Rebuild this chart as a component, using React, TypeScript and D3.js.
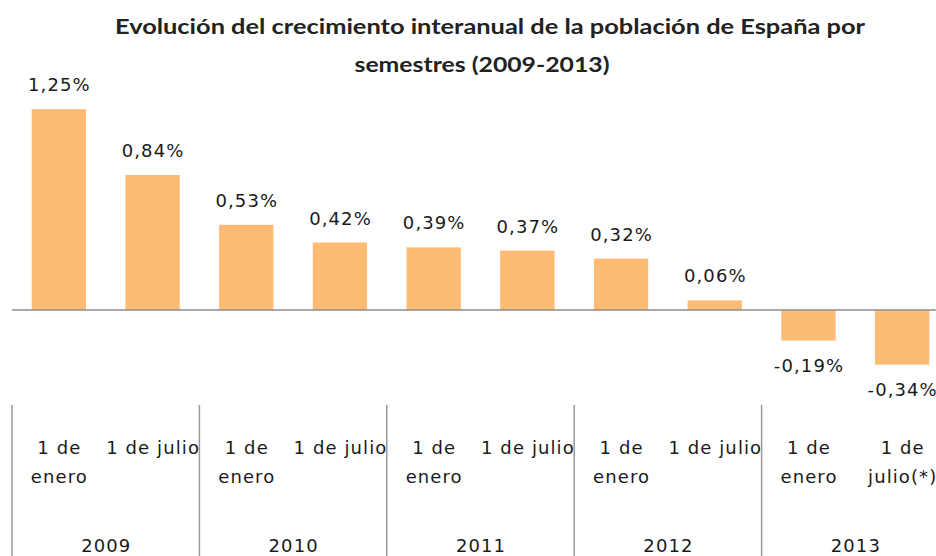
import React from "react";
import * as d3 from "d3";

const categories = ["1 de enero", "1 de julio", "1 de enero", "1 de julio", "1 de enero", "1 de julio", "1 de enero", "1 de julio", "1 de enero", "1 de julio(*)"];
const catLine1 = ["1 de", "1 de julio", "1 de", "1 de julio", "1 de", "1 de julio", "1 de", "1 de julio", "1 de", "1 de"];
const catLine2 = ["enero", "", "enero", "", "enero", "", "enero", "", "enero", "julio(*)"];
const years = ["2009", "2010", "2011", "2012", "2013"];
const values = [1.25, 0.84, 0.53, 0.42, 0.39, 0.37, 0.32, 0.06, -0.19, -0.34];
const valueLabels = ["1,25%", "0,84%", "0,53%", "0,42%", "0,39%", "0,37%", "0,32%", "0,06%", "-0,19%", "-0,34%"];

const W = 936;
const H = 556;
const labelFont = "'DejaVu Sans', Verdana, sans-serif";
const ls = 1.1;

export default function App() {
  const x = d3
    .scaleBand<number>()
    .domain(d3.range(categories.length))
    .range([12, 949])
    .paddingInner(0.42)
    .paddingOuter(0.21);
  const y = d3.scaleLinear().domain([-0.6, 1.4]).range([406.5, 85]);
  const step = x.step();
  const x0 = 12;

  return (
    <svg
      width={W}
      height={H}
      style={{ position: "absolute", left: 0, top: 0, background: "#fff" }}
    >
      <rect x={0} y={0} width={W} height={H} fill="#fff" />
      <text
        x={490}
        y={34}
        textAnchor="middle"
        fontFamily="Lato, 'Open Sans', sans-serif"
        fontWeight="bold"
        fontSize={21}
        fill="#222"
        textLength={750}
        lengthAdjust="spacingAndGlyphs"
      >
        Evolución del crecimiento interanual de la población de España por
      </text>
      <text
        x={482}
        y={72}
        textAnchor="middle"
        fontFamily="Lato, 'Open Sans', sans-serif"
        fontWeight="bold"
        fontSize={21}
        fill="#222"
        textLength={255}
        lengthAdjust="spacingAndGlyphs"
      >
        semestres  (2009-2013)
      </text>

      {values.map((v, i) => (
        <rect
          key={"b" + i}
          x={x(i)!}
          y={y(Math.max(0, v))}
          width={x.bandwidth()}
          height={Math.abs(y(v) - y(0))}
          fill="#FDBB74"
        />
      ))}

      <line x1={12} x2={W} y1={y(0)} y2={y(0)} stroke="#8c8c8c" strokeWidth={1.5} />

      {values.map((v, i) => (
        <text
          key={"v" + i}
          x={x(i)! + x.bandwidth() / 2 + ls / 2}
          y={v >= 0 ? y(v) - 18 : y(v) + 31}
          textAnchor="middle"
          fontFamily={labelFont}
          fontSize={18}
          letterSpacing={ls}
          fill="#1a1a1a"
        >
          {valueLabels[i]}
        </text>
      ))}

      {d3.range(years.length + 1).map((k) => (
        <line
          key={"s" + k}
          x1={x0 + k * 2 * step}
          x2={x0 + k * 2 * step}
          y1={405}
          y2={H}
          stroke="#999"
          strokeWidth={1.5}
        />
      ))}

      {categories.map((c, i) => (
        <g key={"c" + i}>
          <text
            x={x(i)! + x.bandwidth() / 2 + ls / 2}
            y={454}
            textAnchor="middle"
            fontFamily={labelFont}
            fontSize={18}
            letterSpacing={ls}
            fill="#1a1a1a"
          >
            {catLine1[i]}
          </text>
          {catLine2[i] && (
            <text
              x={x(i)! + x.bandwidth() / 2 + ls / 2}
              y={483}
              textAnchor="middle"
              fontFamily={labelFont}
              fontSize={18}
              letterSpacing={ls}
              fill="#1a1a1a"
            >
              {catLine2[i]}
            </text>
          )}
        </g>
      ))}

      {years.map((yr, k) => (
        <text
          key={"y" + k}
          x={x0 + (k + 0.5) * 2 * step + ls / 2}
          y={552}
          textAnchor="middle"
          fontFamily={labelFont}
          fontSize={18}
          letterSpacing={ls}
          fill="#1a1a1a"
        >
          {yr}
        </text>
      ))}
    </svg>
  );
}
